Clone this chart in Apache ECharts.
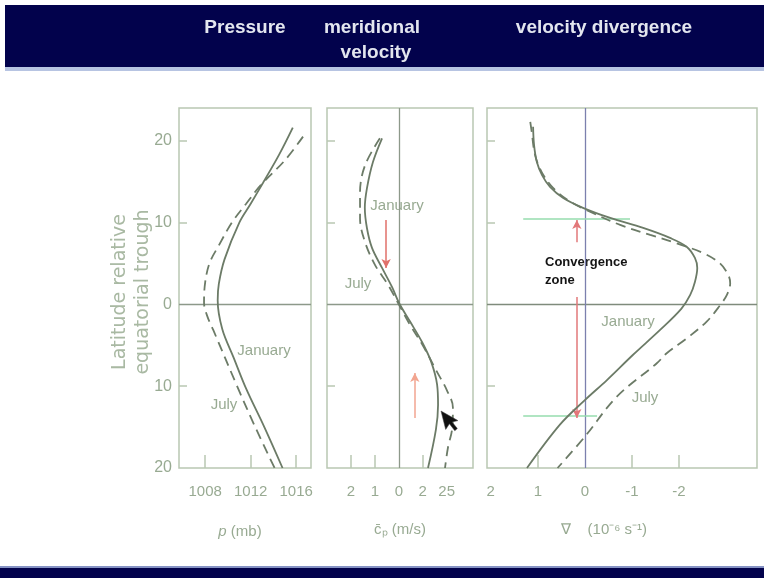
<!DOCTYPE html>
<html>
<head>
<meta charset="utf-8">
<script src="https://cdn.jsdelivr.net/npm/echarts@6/dist/echarts.min.js"></script>
<style>html,body{margin:0;padding:0;background:#fff;}#c{width:764px;height:578px;}</style>
</head>
<body>
<div id="c"></div>
<script>
// ---- data ----
const latLabels = [-20, -10, 0, 10, 20];
const latTicks = [-10, 10, 20];
const pressureLabels = [1008, 1012, 1016];
const velLabels = [-2, -1, 0, 1, 2];
const velLabelText = ['2', '1', '0', '2', '25'];
const velTicks = [-2, -1, 1];
const divLabels = [2, 1, 0, -1, -2];
const divTicks = [1, -1, -2];

// [pressure (mb), latitude]
const pressureJan = [[1015.7,21.6],[1014.5,18.3],[1013.1,14.9],[1012.0,12.3],[1011.0,10.0],[1009.7,5.5],[1009.2,2.5],[1009.1,0.5],[1009.5,-3.0],[1010.5,-6.5],[1011.6,-10.3],[1013.2,-15.0],[1014.8,-20.0]];
const pressureJul = [[1016.6,20.5],[1015.0,17.6],[1012.9,14.6],[1011.6,12.3],[1010.35,10.0],[1009.2,7.2],[1008.4,5.1],[1008.0,2.7],[1007.9,0.2],[1008.2,-1.5],[1008.7,-3.1],[1010.9,-10.3],[1012.4,-15.0],[1014.1,-20.0]];
// [meridional velocity (m/s), latitude]
const velJan = [[-0.70,20.3],[-1.08,17.4],[-1.33,14.2],[-1.42,11.8],[-1.33,9.3],[-1.12,6.9],[-0.70,4.45],[-0.28,2.1],[0.01,0.17],[0.47,-2.1],[0.97,-4.6],[1.35,-7.0],[1.60,-9.8],[1.64,-12.3],[1.55,-15.3],[1.22,-20]];
const velJul = [[-0.79,20.3],[-1.41,17.0],[-1.62,13.7],[-1.62,10.5],[-1.41,7.6],[-0.99,4.8],[-0.45,2.4],[-0.03,0.17],[0.47,-2.5],[1.0,-5.0],[1.55,-8.0],[2.01,-10.5],[2.26,-12.6],[2.22,-15.4],[2.06,-17.4],[1.93,-20]];
// [velocity divergence (1e-6 /s), latitude]
const divJan = [[1.10,21.7],[1.08,19.5],[1.02,17.4],[0.91,15.8],[0.74,14.35],[0.46,13.0],[0.04,11.8],[-0.54,10.56],[-1.24,9.34],[-1.81,8.12],[-2.17,7.02],[-2.34,5.67],[-2.39,4.45],[-2.34,2.74],[-2.24,1.15],[-2.05,-0.56],[-1.60,-3.13],[-1.02,-6.19],[-0.47,-9.25],[0.0,-11.7],[0.53,-14.7],[1.23,-20]];
const divJul = [[1.16,22.3],[1.13,21.1],[1.06,18.3],[0.92,16.2],[0.67,14.2],[0.31,12.56],[-0.18,11.14],[-0.75,9.71],[-1.39,8.49],[-1.95,7.47],[-2.52,6.25],[-2.87,5.02],[-3.05,3.59],[-3.09,2.58],[-3.02,1.15],[-2.88,-0.07],[-2.59,-2.11],[-2.17,-4.14],[-1.74,-5.98],[-1.53,-7.2],[-0.68,-11.28],[0.0,-16.17],[0.58,-20]];

// annotation arrows / lines in data units: [fromX, fromY, toX, toY]
const velArrows = [[-0.53,10.3,-0.53,4.45],[0.67,-13.9,0.67,-8.4]];
const divGreenLines = [[1.31,10.44,-0.96,10.44],[1.31,-13.6,-0.26,-13.6]];
const divArrows = [[0.17,7.6,0.17,10.3],[0.17,0.9,0.17,-13.9]];

// ---- styles ----
const curveColor = '#6c7b67';
const boxColor = '#b9c7b2';
const labelColor = '#98aa92';
const zeroColor = '#8d998a';
const sans = "'Liberation Sans',Arial,sans-serif";

const chart = echarts.init(document.getElementById('c'), null, {renderer:'canvas'});

function gridDef(left, width) {
  return {left: left, top: 108, width: width, height: 360, show: true,
    borderColor: boxColor, borderWidth: 1.5, backgroundColor: 'rgba(0,0,0,0)', containLabel: false};
}
function yAxisDef(idx, showLabels) {
  return {gridIndex: idx, type: 'value', min: -20, max: 24, position: 'left',
    axisLine: {show: false, onZero: false}, splitLine: {show: false},
    axisTick: {show: true, inside: true, length: 8, customValues: latTicks, lineStyle: {color: boxColor, width: 1.5}},
    axisLabel: {show: showLabels, customValues: latLabels, formatter: v => String(Math.abs(v)), margin: 7,
      color: labelColor, fontSize: 16, fontFamily: sans}};
}
function xAxisDef(idx, min, max, labels, ticks, fmt, inverse) {
  return {gridIndex: idx, type: 'value', min: min, max: max, inverse: !!inverse, position: 'bottom',
    axisLine: {show: false, onZero: false}, splitLine: {show: false},
    axisTick: {show: true, inside: true, length: 13, customValues: ticks, lineStyle: {color: boxColor, width: 1.5}},
    axisLabel: {customValues: labels, formatter: fmt, margin: 16, color: labelColor, fontSize: 15, fontFamily: sans}};
}
function arrowPairs(list, colors) {
  return list.map((a, i) => [
    {coord: [a[0], a[1]], symbol: 'none', lineStyle: {color: colors[i], width: 1.5, type: 'solid'}},
    {coord: [a[2], a[3]], symbol: 'arrow', symbolSize: [7, 9]}
  ]);
}
function plainPairs(list, color) {
  return list.map(a => [
    {coord: [a[0], a[1]], symbol: 'none', lineStyle: {color: color, width: 1.5, type: 'solid'}},
    {coord: [a[2], a[3]], symbol: 'none'}
  ]);
}
function curve(idx, data, dashed, extra) {
  const s = {type: 'line', xAxisIndex: idx, yAxisIndex: idx, data: data, smooth: 0.35,
    symbol: 'none', silent: true, z: 5,
    lineStyle: {color: curveColor, width: 1.8, type: dashed ? [10, 6] : 'solid'}};
  return Object.assign(s, extra || {});
}
function zeroMark(items, color) {
  return {silent: true, symbol: ['none', 'none'], label: {show: false}, z: 2,
    lineStyle: {color: color, width: 1.3, type: 'solid'}, data: items};
}
function txt(x, y, text, extra) {
  return {type: 'text', x: x, y: y, style: Object.assign({text: text, fill: labelColor, fontSize: 15, fontFamily: sans,
    textAlign: 'center', textVerticalAlign: 'middle'}, extra || {})};
}
const titleStyle = {fill: '#e3e6ef', fontSize: 19, fontWeight: 'bold'};

const option = {
  animation: false,
  backgroundColor: '#ffffff',
  grid: [gridDef(179, 132), gridDef(327, 146), gridDef(487, 270)],
  xAxis: [
    xAxisDef(0, 1005.7, 1017.3, pressureLabels, pressureLabels, v => String(v)),
    xAxisDef(1, -3, 3.1, velLabels, velTicks, v => velLabelText[velLabels.indexOf(v)]),
    xAxisDef(2, -3.66, 2.08, divLabels, divTicks, v => String(v), true)
  ],
  yAxis: [yAxisDef(0, true), yAxisDef(1, false), yAxisDef(2, false)],
  series: [
    curve(0, pressureJan, false, {markLine: zeroMark([{yAxis: 0}], zeroColor)}),
    curve(0, pressureJul, true),
    curve(1, velJan, false, {markLine: zeroMark([{yAxis: 0}, {xAxis: 0}], zeroColor)}),
    curve(1, velJul, true, {markLine: {silent: true, label: {show: false}, z: 3, data: arrowPairs(velArrows, ['#e0706a', '#f2a590'])}}),
    curve(2, divJan, false, {markLine: zeroMark([{yAxis: 0}], '#7f8b7c')}),
    curve(2, divJul, true, {markLine: zeroMark([{xAxis: 0}], '#7c80ae')}),
    {type: 'line', xAxisIndex: 2, yAxisIndex: 2, data: [], symbol: 'none', silent: true,
      markLine: {silent: true, label: {show: false}, z: 3,
        data: plainPairs(divGreenLines, '#96dcae').concat(arrowPairs(divArrows, ['#e2787a', '#e2787a']))}}
  ],
  graphic: [
    {type: 'rect', shape: {x: 5, y: 5, width: 759, height: 63}, style: {fill: '#02024c'}, z: 0},
    {type: 'rect', shape: {x: 5, y: 67, width: 759, height: 4}, style: {fill: '#b7c4e2'}, z: 0},
    {type: 'rect', shape: {x: 0, y: 566, width: 764, height: 3}, style: {fill: '#8592c4'}, z: 0},
    {type: 'rect', shape: {x: 0, y: 568, width: 764, height: 10}, style: {fill: '#02024c'}, z: 0},
    txt(245, 28, 'Pressure', titleStyle),
    txt(372, 28, 'meridional', titleStyle),
    txt(376, 53, 'velocity', titleStyle),
    txt(604, 28, 'velocity divergence', titleStyle),
    Object.assign(txt(120, 292, 'Latitude relative', {fill: '#a9b9a3', fontSize: 19, fontFamily: "'DejaVu Sans',sans-serif"}), {rotation: Math.PI / 2}),
    Object.assign(txt(143, 292, 'equatorial trough', {fill: '#a9b9a3', fontSize: 19, fontFamily: "'DejaVu Sans',sans-serif"}), {rotation: Math.PI / 2}),
    txt(240, 532, '{i|p} (mb)', {rich: {i: {fontStyle: 'italic', fontSize: 15, fill: labelColor, fontFamily: sans}}}),
    txt(400, 530, 'c\u0304\u209A (m/s)'),
    txt(604, 530, '\u2207    (10\u207B\u2076 s\u207B\u00B9)'),
    txt(264, 351, 'January'),
    txt(224, 405, 'July'),
    txt(397, 206, 'January'),
    txt(358, 284, 'July'),
    txt(628, 322, 'January'),
    txt(645, 398, 'July'),
    txt(545, 262, 'Convergence', {fill: '#141414', fontSize: 13, fontWeight: 'bold', textAlign: 'left'}),
    txt(545, 280, 'zone', {fill: '#141414', fontSize: 13, fontWeight: 'bold', textAlign: 'left'}),
    {type: 'polygon', x: 441, y: 411, rotation: 0.25, z: 100,
      shape: {points: [[0,0],[0,19],[5,14.5],[8.5,22.5],[11.5,21],[8,13.5],[14,13.5]]},
      style: {fill: '#111111', stroke: '#444', lineWidth: 0.5}}
  ]
};
chart.setOption(option);
</script>
</body>
</html>
